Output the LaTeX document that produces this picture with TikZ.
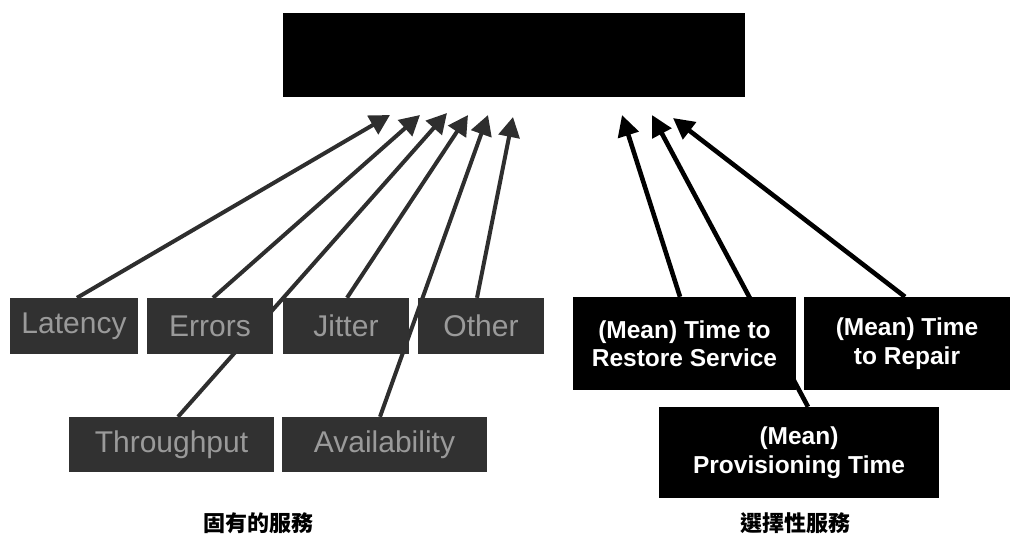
\documentclass[tikz,border=0pt]{standalone}
\usepackage{fontspec}
\setmainfont{Liberation Sans}
\newfontfamily\cjk{Noto Sans CJK TC}
\usetikzlibrary{arrows.meta,backgrounds,calc}
\definecolor{boxgray}{HTML}{313131}
\definecolor{textgray}{HTML}{9A9A9A}
\definecolor{linegray}{HTML}{2E2E2E}
\tikzset{
  topbox/.style={fill=black, draw=none, inner sep=0pt},
  graybox/.style={fill=boxgray, draw=none, inner sep=0pt, text=textgray,
    font=\fontsize{30}{32}\selectfont, minimum height=56pt},
  blackbox/.style={fill=black, draw=none, inner sep=0pt, text=white, align=center,
    font=\fontsize{24.5}{28.5}\selectfont\bfseries},
  leftarrow/.style={draw=linegray, line width=4pt, -{Triangle[length=20pt,width=21pt]}},
  rightarrow/.style={draw=black, line width=4.6pt, -{Triangle[length=21pt,width=21pt]}},
  caption/.style={font=\cjk\bfseries\fontsize{22}{24}\selectfont, inner sep=0pt}
}
\begin{document}
\begin{tikzpicture}[x=1pt,y=-1pt]
\useasboundingbox (0,0) rectangle (1018,550);
% top box
\node[topbox, minimum width=462pt, minimum height=84pt] (top) at (514,55) {};
% left boxes
\node[graybox, minimum width=128pt] (lat) at (74,326) {Latency};
\node[graybox, minimum width=126pt] (err) at (210,326) {Errors};
\node[graybox, minimum width=126pt] (jit) at (346,326) {Jitter};
\node[graybox, minimum width=126pt] (oth) at (481,326) {Other};
\node[graybox, minimum width=205pt, minimum height=55pt] (thr) at (171.5,444.5) {Throughput};
\node[graybox, minimum width=205pt, minimum height=55pt] (ava) at (384.5,444.5) {Availability};
% right boxes
\node[blackbox, minimum width=223pt, minimum height=93pt] (rest) at (684.5,343.5) {(Mean) Time to\\Restore Service};
\node[blackbox, minimum width=206pt, minimum height=93pt] (rep) at (907,343.5) {(Mean) Time\\to Repair};
\node[blackbox, minimum width=280pt, minimum height=91pt] (prov) at (799,452.5) {(Mean)\\Provisioning Time};
% captions
\node[caption] (capL) at (258,523) {固有的服務};
\node[caption] (capR) at (795,523) {選擇性服務};
% arrow tips
\coordinate (tlat) at (390,115);
\coordinate (terr) at (420,115);
\coordinate (tthr) at (447,113);
\coordinate (tjit) at (468,115);
\coordinate (tava) at (488,115);
\coordinate (toth) at (513,117);
\coordinate (trest) at (622,115);
\coordinate (tprov) at (652,115);
\coordinate (trep) at (673,118);
\begin{scope}[on background layer]
\draw[leftarrow] ([xshift=3pt]lat.north) -- (tlat);
\draw[leftarrow] ([xshift=3pt]err.north) -- (terr);
\draw[leftarrow] ([xshift=6.5pt]thr.north) -- (tthr);
\draw[leftarrow] ([xshift=1pt]jit.north) -- (tjit);
\draw[leftarrow] ([xshift=-4.5pt]ava.north) -- (tava);
\draw[leftarrow] ([xshift=-4pt]oth.north) -- (toth);
\draw[rightarrow] ([xshift=-4.5pt]rest.north) -- (trest);
\draw[rightarrow] ([xshift=9pt]prov.north) -- (tprov);
\draw[rightarrow] ([xshift=-2pt]rep.north) -- (trep);
\end{scope}
\end{tikzpicture}
\end{document}
